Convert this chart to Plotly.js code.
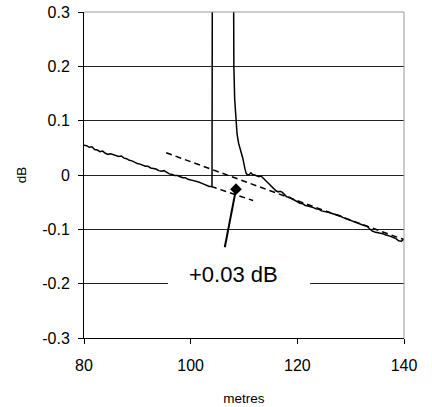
<!DOCTYPE html>
<html>
<head>
<meta charset="utf-8">
<script src="https://cdn.plot.ly/plotly-3.0.1.min.js"></script>
<style>html,body{margin:0;padding:0;background:#fff;}#chart{width:432px;height:407px;}</style>
</head>
<body>
<div id="chart"></div>
<script>
// Measured trace (metres, dB)
const traceX = [80.0,80.5,81.0,81.5,82.0,82.5,83.0,83.5,84.0,84.5,85.0,85.5,86.0,86.5,87.0,87.5,88.0,88.5,89.0,89.5,90.0,90.5,91.0,91.5,92.0,92.5,93.0,93.5,94.0,94.5,95.0,95.5,96.0,96.5,97.0,97.5,98.0,98.5,99.0,99.5,100.0,100.5,101.0,101.5,102.0,102.5,103.0,103.5,104.0,104.1,
  107.95,108.0,108.1,108.25,108.45,108.7,109.0,109.4,109.8,110.1,110.4,110.7,111.0,111.3,111.6,112.0,112.4,112.8,113.2,113.6,114.0,114.4,114.8,115.2,115.6,116.0,116.4,116.8,117.2,117.6,118.0,118.5,119.0,119.5,120.0,120.5,121.0,121.5,122.0,122.5,123.0,123.5,124.0,124.5,125.0,125.5,126.0,126.5,127.0,127.5,128.0,128.5,129.0,129.5,130.0,130.5,131.0,131.5,132.0,132.5,133.0,133.5,134.0,134.5,135.0,135.5,136.0,136.5,137.0,137.5,138.0,138.5,139.0,139.5,140.0];
const traceY = [0.055,0.054,0.051,0.052,0.047,0.046,0.043,0.044,0.040,0.038,0.039,0.037,0.036,0.034,0.035,0.031,0.030,0.027,0.026,0.023,0.021,0.020,0.018,0.016,0.016,0.013,0.012,0.011,0.008,0.007,0.008,0.005,0.002,0.001,-0.001,-0.001,-0.003,-0.005,-0.005,-0.008,-0.009,-0.010,-0.012,-0.013,-0.015,-0.017,-0.019,-0.021,-0.021,0.6,
  0.6,0.3,0.2,0.14,0.1,0.075,0.058,0.045,0.03,0.015,0.003,0.000,0.001,0.004,0.001,0.000,-0.002,-0.003,-0.002,-0.006,-0.010,-0.014,-0.018,-0.021,-0.026,-0.029,-0.031,-0.030,-0.032,-0.037,-0.040,-0.041,-0.044,-0.047,-0.049,-0.052,-0.053,-0.056,-0.057,-0.058,-0.060,-0.062,-0.063,-0.066,-0.067,-0.067,-0.069,-0.071,-0.072,-0.073,-0.075,-0.078,-0.080,-0.082,-0.084,-0.086,-0.088,-0.089,-0.091,-0.093,-0.094,-0.098,-0.103,-0.105,-0.106,-0.106,-0.108,-0.110,-0.111,-0.113,-0.115,-0.117,-0.121,-0.122,-0.118];
// Fitted dashed lines
const fitUpperX = [95.4, 140];
const fitUpperY = [0.041, -0.119];
const fitLowerX = [103.8, 111.7];
const fitLowerY = [-0.021, -0.047];
// Pointer
const pointerX = [106.4, 108.5];
const pointerY = [-0.133, -0.026];
const labelText = "+0.03 dB";
const labelX = 108.0, labelY = -0.184;
const yTicks = [-0.3,-0.2,-0.1,0,0.1,0.2,0.3];
const yTickText = ["-0.3","-0.2","-0.1","0","0.1","0.2","0.3"];
const xTicks = [80,100,120,140];

const F = "Liberation Sans, Arial, sans-serif";
const data = [
  {x: fitUpperX, y: fitUpperY, mode:'lines', line:{color:'#000', width:1.5, dash:'6px,4px'}, hoverinfo:'skip'},
  {x: fitLowerX, y: fitLowerY, mode:'lines', line:{color:'#000', width:1.5, dash:'6px,4px'}, hoverinfo:'skip'},
  {x: traceX, y: traceY, mode:'lines', line:{color:'#000', width:1.5}},
  {x: pointerX, y: pointerY, mode:'lines', line:{color:'#000', width:2}},
  {x: [pointerX[1]], y: [pointerY[1]], mode:'markers', marker:{symbol:'diamond', size:9, color:'#000'}}
];
const layout = {
  width:432, height:407, showlegend:false,
  margin:{l:84, r:28, t:12, b:69},
  paper_bgcolor:'#fff', plot_bgcolor:'#fff',
  font:{family:F, color:'#000'},
  xaxis:{range:[80,140], tickvals:xTicks, showgrid:false, zeroline:false,
    showline:true, linecolor:'#000', linewidth:1, ticks:'outside', ticklen:5, tickcolor:'#000',
    tickfont:{size:16, family:F}, ticklabelstandoff:8,
    title:{text:'metres', font:{size:13.5, family:F}, standoff:20}},
  yaxis:{range:[-0.3,0.3], tickvals:yTicks, ticktext:yTickText, showgrid:true, gridcolor:'#222', gridwidth:1,
    zeroline:false, showline:true, linecolor:'#000', linewidth:1, ticks:'outside', ticklen:5, tickcolor:'#000',
    tickfont:{size:16, family:F}, ticklabelstandoff:5,
    title:{text:'dB', font:{size:13.5, family:F}, standoff:12}},
  shapes:[
    {type:'line', xref:'paper', yref:'paper', x0:0, x1:1, y0:1, y1:1, line:{color:'#999', width:1}},
    {type:'line', xref:'paper', yref:'paper', x0:1, x1:1, y0:0, y1:1, line:{color:'#999', width:1}},
    {type:'rect', xref:'x', yref:'y', x0:95.75, x1:122.4, y0:-0.215, y1:-0.155, layer:'between', fillcolor:'#fff', line:{width:0}}
  ],
  annotations:[{x:labelX, y:labelY, xref:'x', yref:'y', text:labelText, showarrow:false,
    font:{size:22, family:F, color:'#000'}}]
};
Plotly.newPlot('chart', data, layout, {displayModeBar:false, staticPlot:true});
</script>
</body>
</html>
